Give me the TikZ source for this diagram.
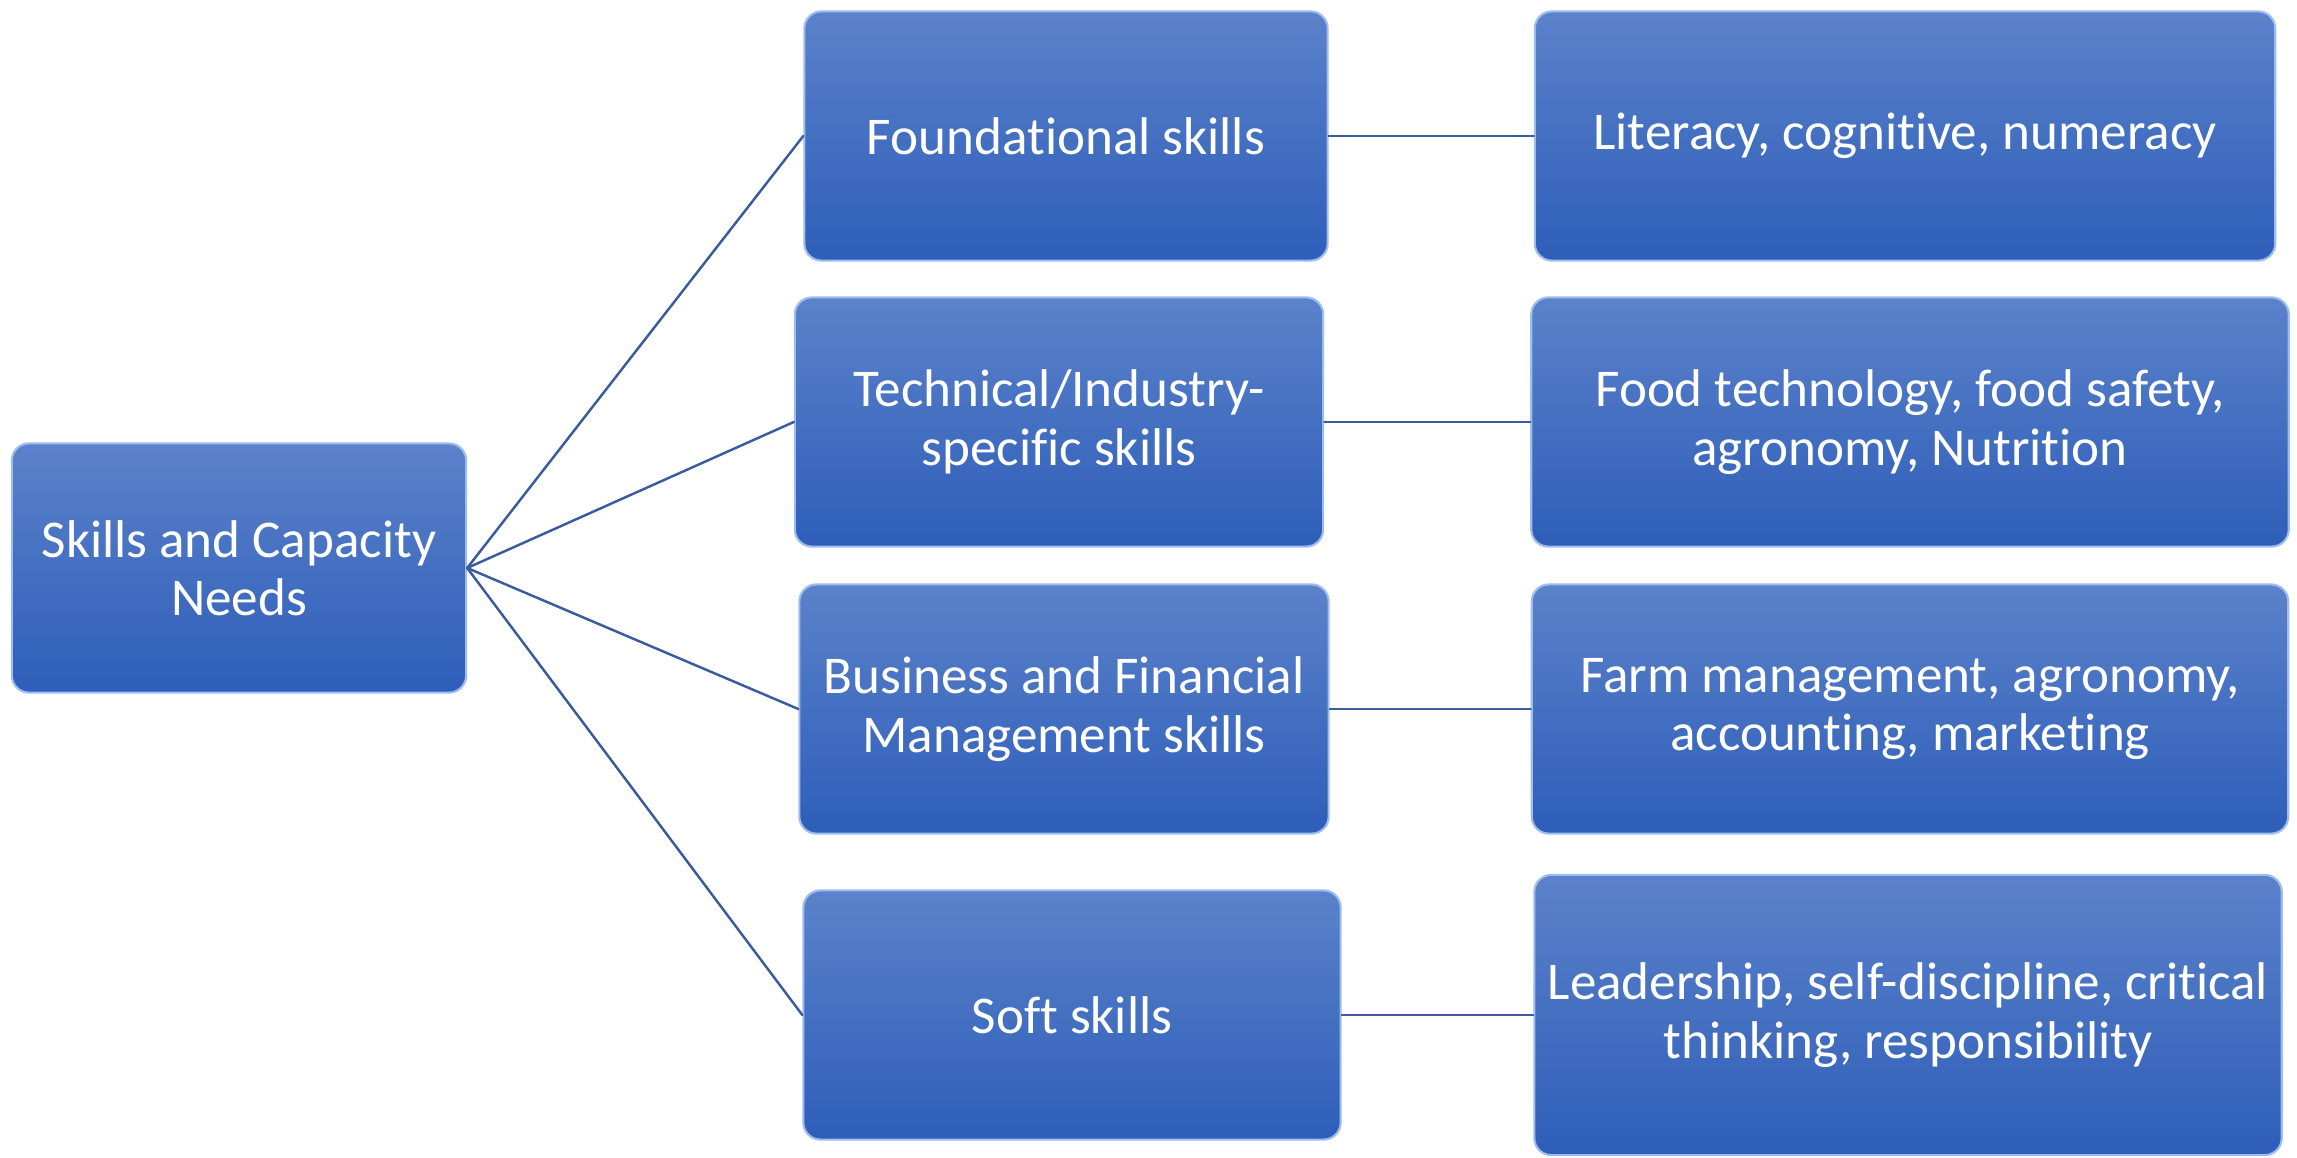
\documentclass[tikz,border=0pt]{standalone}
\usepackage{fontspec}
\setmainfont{Carlito}[Ligatures=NoCommon]
\definecolor{boxtop}{HTML}{5B82CA}
\definecolor{boxbot}{HTML}{2E5EB9}
\definecolor{boxrim}{HTML}{9DBCF0}
\definecolor{linkblue}{HTML}{3B5C9C}
\tikzset{
  skill/.style={rounded corners=0.17cm,top color=boxtop,bottom color=boxbot,draw=boxrim,line width=0.6pt,
    text=white,align=center,inner sep=0pt,minimum height=2.49cm,font=\fontsize{15.1}{16.6}\selectfont},
  link/.style={draw=linkblue,line width=0.7pt}
}
\begin{document}
\begin{tikzpicture}[x=0.01cm,y=-0.01cm,line join=round,line cap=round]
	\useasboundingbox (0,0) rectangle (2297,1158);
	% root
	\node[skill,minimum width=4.54cm] (needs) at (239,568) {Skills and Capacity\\Needs};
	% skill groups
	\node[skill,minimum width=5.23cm] (found) at (1066,136) {Foundational skills};
	\node[skill,minimum width=5.28cm] (tech) at (1059,422) {Technical/Industry-\\specific skills};
	\node[skill,minimum width=5.29cm] (busi) at (1064,709) {Business and Financial\\Management skills};
	\node[skill,minimum width=5.37cm] (soft) at (1072,1015) {Soft skills};
	% examples
	\node[skill,minimum width=7.40cm] (lit) at (1905,136) {Literacy, cognitive, numeracy};
	\node[skill,minimum width=7.57cm] (food) at (1910,422) {Food technology, food safety,\\agronomy, Nutrition};
	\node[skill,minimum width=7.56cm] (farm) at (1910,709) {Farm management, agronomy,\\accounting, marketing};
	\node[skill,minimum width=7.47cm,minimum height=2.80cm] (lead) at (1908,1015) {Leadership, self-discipline, critical\\thinking, responsibility};
	\foreach \g in {found,tech,busi,soft} \draw[link] (needs.east)--(\g.west);
	\draw[link] (found)--(lit) (tech)--(food) (busi)--(farm) (soft)--(lead);
\end{tikzpicture}
\end{document}
